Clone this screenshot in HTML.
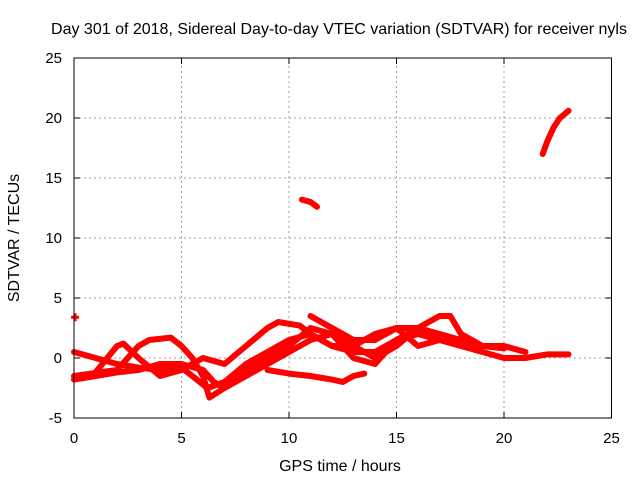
<!DOCTYPE html>
<html><head><meta charset="utf-8"><style>
body{margin:0;background:#fff;}
svg{display:block;font-family:"Liberation Sans",sans-serif;}
</style></head><body>
<svg id="chart" width="640" height="480">
<rect width="640" height="480" fill="#fff"/>
<text x="339" y="34" font-size="16" text-anchor="middle">Day 301 of 2018, Sidereal Day-to-day VTEC variation (SDTVAR) for receiver nyls</text>
<g id="grid"></g>
<g id="series"></g>
<g id="axes"></g>
<text x="340" y="471" font-size="16" text-anchor="middle">GPS time / hours</text>
<text x="19" y="238" font-size="16" text-anchor="middle" transform="rotate(-90 19 238)">SDTVAR / TECUs</text>
</svg>
<script>
const xTicks=[0,5,10,15,20,25];
const yTicks=[-5,0,5,10,15,20,25];
const trackA=[[0,0.5],[1,0],[2,-0.5],[3,-0.8],[4,-1],[5,-0.8],[5.5,-1.5],[6.2,-2.5],[7,-2],[8,-0.5],[9,0.5],[10,1.5],[11,2],[12,1],[13,0.5],[14,0.5],[15,1.5],[16,2],[17,1.5],[18,1],[19,0.5],[20,0],[21,0],[22,0.3],[23,0.3]];
const trackB=[[0,-1.8],[1,-1.5],[2,-1.2],[3,-1],[4,-0.5],[5,-0.5],[6,-1],[6.5,-2],[7,-2.5],[8,-1.5],[9,-0.5],[10,0.5],[11,1.5],[12,2],[13,1],[14,0],[15,1],[16,2.5],[17,3.5],[17.5,3.5],[18,2],[19,1],[20,1],[21,0.5]];
const trackC=[[0,-1.5],[2,-1],[2.5,0],[3,1],[3.5,1.5],[4.5,1.7],[5,1],[5.5,0],[6,-1.5],[6.3,-3.3],[7,-2.5],[8,-1],[9,0],[10,1],[11,2.5],[12,2],[13,0],[14,-0.5],[15,1.5],[16,2.5]];
const trackD=[[1,-1.2],[2,1],[2.3,1.2],[3,0],[4,-1.5],[5,-1],[6,0],[7,-0.5],[8,1],[9,2.5],[9.5,3],[10.5,2.7],[11,2],[12,1],[13,1],[14,2],[15,2.5],[16,2.5],[17,2],[18,1.5],[19,1],[20,0.8]];
const trackE=[[9,-1],[10,-1.3],[11,-1.5],[12,-1.8],[12.5,-2],[13,-1.5],[13.5,-1.3]];
const trackF=[[11,3.5],[12,2.5],[13,1.5],[14,1.5],[15,2.5],[16,1],[17,1.5]];
const trackG=[[10.6,13.2],[11,13],[11.3,12.6]];
const trackH=[[21.8,17],[22,18],[22.3,19.2],[22.6,20],[23,20.6]];
const trackI=[[0.05,3.4]];
const tracks=[trackA,trackB,trackC,trackD,trackE,trackF,trackG,trackH,trackI];
const X0=74,X1=611.5,Y0=418,Y1=58;
const sx=v=>X0+(v-0)/25*(X1-X0);
const sy=v=>Y0-(v+5)/30*(Y0-Y1);
const NS='http://www.w3.org/2000/svg';
function mk(t,a,p){const e=document.createElementNS(NS,t);for(const k in a)e.setAttribute(k,a[k]);p.appendChild(e);return e;}
const grid=document.getElementById('grid'),axes=document.getElementById('axes'),ser=document.getElementById('series');
xTicks.forEach(t=>{
 if(t>0&&t<25){const g=mk('line',{x1:sx(t),x2:sx(t),y1:Y0,y2:Y1,stroke:'#a0a0a0','stroke-dasharray':'2,3'},grid);
 }
 mk('line',{x1:sx(t),x2:sx(t),y1:Y0,y2:Y0-6,stroke:'#000'},axes);
 mk('line',{x1:sx(t),x2:sx(t),y1:Y1,y2:Y1+6,stroke:'#000'},axes);
 const l=mk('text',{x:sx(t),y:Y0+25,'font-size':15,'text-anchor':'middle'},axes);l.textContent=t;
 
});
yTicks.forEach(t=>{
 if(t>-5&&t<25){const g=mk('line',{x1:X0,x2:X1,y1:sy(t),y2:sy(t),stroke:'#a0a0a0','stroke-dasharray':'2,3'},grid);
 }
 mk('line',{x1:X0,x2:X0+6,y1:sy(t),y2:sy(t),stroke:'#000'},axes);
 mk('line',{x1:X1,x2:X1-6,y1:sy(t),y2:sy(t),stroke:'#000'},axes);
 const l=mk('text',{x:X0-12,y:sy(t)+5,'font-size':15,'text-anchor':'end'},axes);l.textContent=t;
 
});
const fr=mk('rect',{x:X0,y:Y1,width:X1-X0,height:Y0-Y1,fill:'none',stroke:'#000'},axes);

tracks.forEach(tr=>{
 let d;
 if(tr.length===1){const x=sx(tr[0][0]),y=sy(tr[0][1]);d=`M${x-4},${y}L${x+4},${y}M${x},${y-4}L${x},${y+4}`;}
 else d=tr.map((p,i)=>(i?'L':'M')+sx(p[0]).toFixed(1)+','+sy(p[1]).toFixed(1)).join('');
 const path=mk('path',{d:d,fill:'none',stroke:'#f00','stroke-width':tr.length===1?3:6,'stroke-linejoin':'round','stroke-linecap':tr.length===1?'butt':'round'},ser);
 
 
});
</script>
</body></html>
